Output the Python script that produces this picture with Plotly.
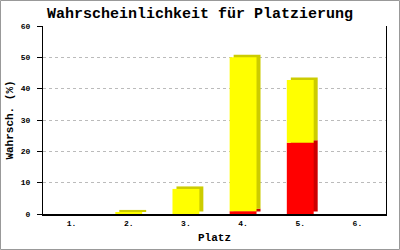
import plotly.graph_objects as go

categories = ["1.", "2.", "3.", "4.", "5.", "6."]
red_vals = [0, 0, 0, 0.9, 22.7, 0]
yellow_vals = [0, 0.5, 8.0, 49.1, 20.1, 0]
y_ticks = [0, 10, 20, 30, 40, 50, 60]

W, H = 400, 250
ML, MR, MT, MB = 43, 14, 26, 36
PW, PH = W - ML - MR, H - MT - MB

BAR_W = 0.47
OFF = -BAR_W / 2
DX = 0.07          # depth offset in category units
DY = 0.8           # depth offset in value units

mono = "Liberation Mono"

fig = go.Figure()

yellow_base = list(red_vals)

def shadow_base(vals, base):
    return [b + DY if v > 0 else b for v, b in zip(vals, base)]

# depth (side/top) faces
fig.add_trace(go.Bar(x=categories, y=red_vals, base=shadow_base(red_vals, [0]*6),
                     width=BAR_W, offset=OFF + DX,
                     marker=dict(color="#CC0000", line=dict(width=0))))
fig.add_trace(go.Bar(x=categories, y=yellow_vals, base=shadow_base(yellow_vals, yellow_base),
                     width=BAR_W, offset=OFF + DX,
                     marker=dict(color="#CCCC00", line=dict(width=0))))
# front faces
fig.add_trace(go.Bar(x=categories, y=red_vals, base=[0]*6,
                     width=BAR_W, offset=OFF,
                     marker=dict(color="#FF0000", line=dict(width=0))))
fig.add_trace(go.Bar(x=categories, y=yellow_vals, base=yellow_base,
                     width=BAR_W, offset=OFF,
                     marker=dict(color="#FFFF00", line=dict(width=0))))

fig.update_layout(
    width=W, height=H,
    margin=dict(l=ML, r=MR, t=MT, b=MB, autoexpand=False),
    barmode="overlay",
    showlegend=False,
    paper_bgcolor="white",
    plot_bgcolor="white",
    title=dict(text="Wahrscheinlichkeit für Platzierung",
               x=0.5, xref="container", xanchor="center",
               y=1 - 13 / H, yanchor="middle",
               font=dict(family=mono, size=15, color="black", weight="bold")),
    xaxis=dict(
        type="category", categoryorder="array", categoryarray=categories,
        range=[-0.5, 5.5], automargin=False,
        showline=True, linecolor="black", linewidth=2,
        showgrid=False, ticks="", zeroline=False,
        ticklabelstandoff=0,
        tickfont=dict(family=mono, size=8, color="black", weight="bold"),
        title=dict(text="Platz", standoff=7,
                   font=dict(family=mono, size=11, color="black", weight="bold")),
    ),
    yaxis=dict(
        range=[0, 60], tickvals=y_ticks, automargin=False,
        showline=True, linecolor="black", linewidth=1, mirror=True,
        ticks="outside", ticklen=5, tickcolor="black",
        ticklabelstandoff=5,
        showgrid=True, gridcolor="#BBBBBB", griddash="dot", gridwidth=1,
        zeroline=False,
        tickfont=dict(family=mono, size=8, color="black", weight="bold"),
        title=dict(text="Wahrsch. (%)", standoff=4,
                   font=dict(family=mono, size=11, color="black", weight="bold")),
    ),
    shapes=[dict(type="rect", xref="paper", yref="paper",
                 x0=-(ML - 0.5) / PW, x1=1 + (MR - 0.5) / PW,
                 y0=-(MB - 0.5) / PH, y1=1 + (MT - 0.5) / PH,
                 line=dict(color="#999999", width=1), layer="below")],
)

fig.write_html("out.html")
